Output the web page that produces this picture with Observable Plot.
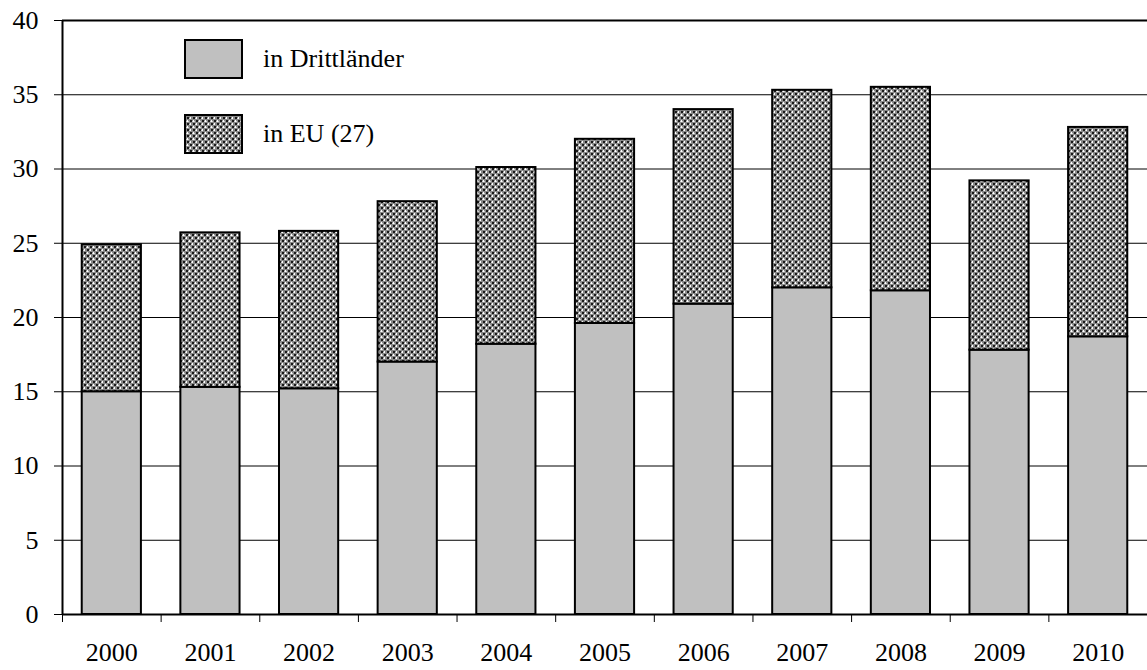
<!DOCTYPE html>
<html>
<head>
<meta charset="utf-8">
<script src="https://cdn.jsdelivr.net/npm/d3@7"></script>
<script src="https://cdn.jsdelivr.net/npm/@observablehq/plot@0.6"></script>
<style>
  html, body { margin: 0; padding: 0; background: white; }
  #wrap { position: relative; width: 1147px; height: 670px; overflow: hidden; font-family: "Liberation Serif", "Times New Roman", serif; }
  .leg { position: absolute; left: 184px; height: 40px; display: flex; align-items: center; }
  .leg svg { display: block; }
  .leg span { margin-left: 20px; font-size: 26px; color: black; white-space: nowrap; }
</style>
</head>
<body>
<div id="wrap"></div>
<script>
const years = [2000, 2001, 2002, 2003, 2004, 2005, 2006, 2007, 2008, 2009, 2010];
const drittlaender = [15.0, 15.3, 15.2, 17.0, 18.2, 19.6, 20.9, 22.0, 21.8, 17.8, 18.7];
const eu27 = [9.9, 10.4, 10.6, 10.8, 11.9, 12.4, 13.1, 13.3, 13.7, 11.4, 14.1];
const yTicks = [0, 5, 10, 15, 20, 25, 30, 35, 40];
const seriesNames = ["in Drittländer", "in EU (27)"];

const rows = years.map((year, i) => ({year, dritt: drittlaender[i], eu: eu27[i]}));
const boundaries = years.map(y => y - 0.5).concat([years[years.length - 1] + 0.5]);

const patternMarkup = `
  <pattern id="eu-hatch" width="6" height="6" patternUnits="userSpaceOnUse">
    <rect width="6" height="6" fill="#8a8a8a"/>
    <rect x="0" y="0" width="2" height="2" fill="#1a1a1a"/>
    <rect x="3" y="3" width="2" height="2" fill="#1a1a1a"/>
    <rect x="3" y="0" width="1" height="2" fill="#ffffff"/>
    <rect x="2" y="1" width="3" height="1" fill="#ffffff" opacity="0.6"/>
    <rect x="0" y="3" width="1" height="2" fill="#ffffff"/>
    <rect x="5" y="4" width="1" height="1" fill="#ffffff" opacity="0.6"/>
  </pattern>`;

const chart = Plot.plot({
  width: 1147,
  height: 670,
  marginLeft: 62,
  marginRight: 0,
  marginTop: 20,
  marginBottom: 56,
  style: {fontFamily: "'Liberation Serif', 'Times New Roman', serif", fontSize: "26px", color: "black", background: "white"},
  x: {type: "linear", domain: [boundaries[0], boundaries[boundaries.length - 1]]},
  y: {domain: [0, 40]},
  marks: [
    Plot.gridY(yTicks.filter(t => t > 0 && t < 40), {stroke: "black", strokeOpacity: 1, strokeWidth: 1}),
    Plot.ruleY([40], {stroke: "black", strokeWidth: 2}),
    Plot.rectY(rows, {x1: d => d.year - 0.3, x2: d => d.year + 0.3, y1: 0, y2: "dritt", fill: "#c0c0c0", stroke: "black", strokeWidth: 2}),
    Plot.rectY(rows, {x1: d => d.year - 0.3, x2: d => d.year + 0.3, y1: "dritt", y2: d => d.dritt + d.eu, fill: "url(#eu-hatch)", stroke: "black", strokeWidth: 2}),
    Plot.ruleX([boundaries[0]], {stroke: "black", strokeWidth: 2}),
    Plot.ruleY([0], {stroke: "black", strokeWidth: 2}),
    Plot.axisY({ticks: yTicks, tickSize: 8, tickPadding: 16, fontSize: 26, label: null, tickFormat: d => String(d)}),
    Plot.axisX({ticks: boundaries, tickSize: 8, label: null, tickFormat: () => ""}),
    Plot.axisX({ticks: years, tickSize: 0, tickPadding: 28, fontSize: 26, label: null, tickFormat: d => String(d)})
  ]
});

const defs = document.createElementNS("http://www.w3.org/2000/svg", "defs");
defs.innerHTML = patternMarkup;
chart.insertBefore(defs, chart.firstChild);

const wrap = document.getElementById("wrap");
wrap.appendChild(chart);

const legendFills = ["#c0c0c0", "url(#eu-hatch-leg)"];
const legendTops = [39, 114];
seriesNames.forEach((name, i) => {
  const div = document.createElement("div");
  div.className = "leg";
  div.style.top = legendTops[i] + "px";
  div.innerHTML = `<svg width="59" height="40"><defs>${patternMarkup.replace('id="eu-hatch"', 'id="eu-hatch-leg"')}</defs>
    <rect x="1" y="1" width="57" height="38" fill="${legendFills[i]}" stroke="black" stroke-width="2"/></svg><span>${name}</span>`;
  wrap.appendChild(div);
});
</script>
</body>
</html>
